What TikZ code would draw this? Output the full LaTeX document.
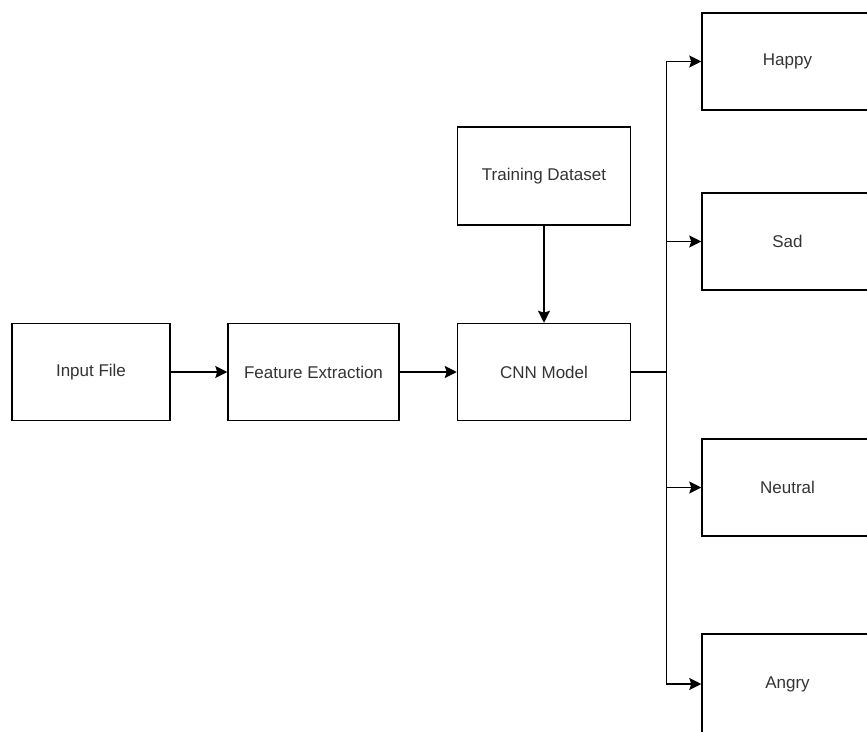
\documentclass[tikz,border=0pt]{standalone}
\usepackage{fontspec}
\setmainfont{Liberation Sans}
\usetikzlibrary{arrows.meta}

\tikzset{
    blockbox/.style={draw, line width=1.5pt, rectangle, minimum width=171pt, minimum height=97pt,
        font=\fontsize{17}{19}\selectfont, text=black!80, inner sep=0pt},
    arrowline/.style={line width=1.3pt, -{Stealth[length=12pt, width=12pt, inset=2pt]}}
}

\begin{document}
\begin{tikzpicture}[x=1pt, y=-1pt]
    \useasboundingbox (0,0) rectangle (867,731);
    \clip (0,0) rectangle (867,731);

    \node[blockbox, minimum width=158pt] (input) at (91,372) {Input File};
    \node[blockbox] (feature) at (313.5,372) {Feature Extraction};
    \node[blockbox, minimum width=173pt] (cnn) at (544,372) {CNN Model};
    \node[blockbox, minimum width=173pt, minimum height=98pt] (train) at (544,176) {Training Dataset};

    \node[blockbox] (happy) at (787.5,61.5) {Happy};
    \node[blockbox] (sad) at (787.5,241.5) {Sad};
    \node[blockbox] (neutral) at (787.5,487.5) {Neutral};
    \node[blockbox, minimum height=100pt] (angry) at (787.5,684) {Angry};

    \coordinate (split) at (666.5,372);

    \draw[arrowline] (input) -- (feature);
    \draw[arrowline] (feature) -- (cnn);
    \draw[arrowline] (train) -- (cnn);
    \draw[line width=1.3pt] (cnn.east) -- (split);
    \draw[arrowline] (split) |- (happy.west);
    \draw[arrowline] (split) |- (sad.west);
    \draw[arrowline] (split) |- (neutral.west);
    \draw[arrowline] (split) |- (angry.west);
\end{tikzpicture}
\end{document}
